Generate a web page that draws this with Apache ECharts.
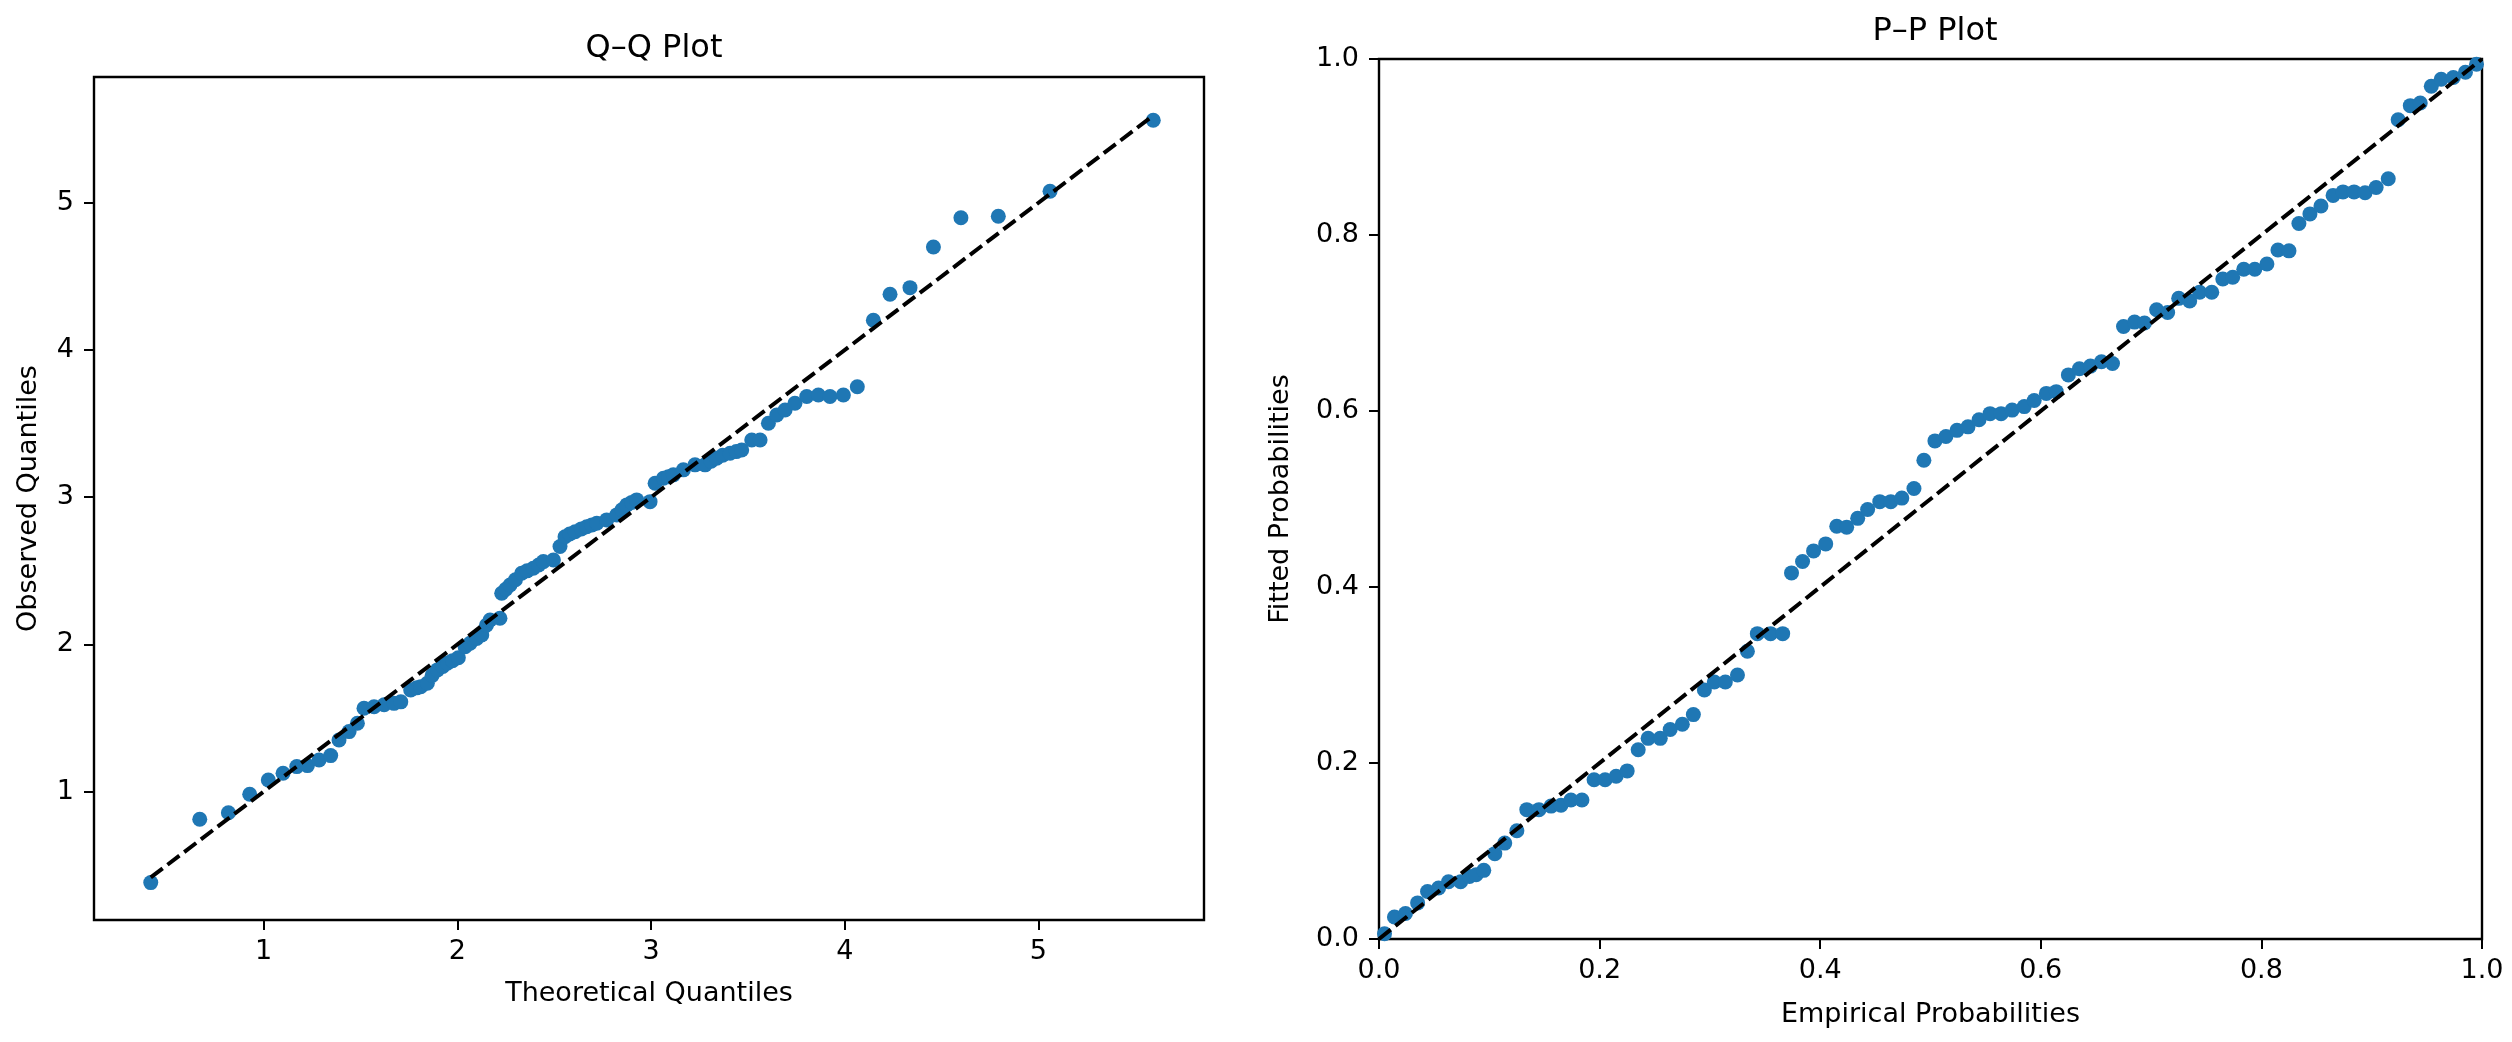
<!DOCTYPE html>
<html>
<head>
<meta charset="utf-8">
<title>Q–Q and P–P Plot</title>
<script src="https://cdn.jsdelivr.net/npm/echarts/dist/echarts.min.js"></script>
<style>
  html, body { margin: 0; padding: 0; background: #fff; }
  #main { width: 2512px; height: 1042px; }
</style>
</head>
<body>
<div id="main"></div>
<script>
// Q–Q plot data (theoretical vs observed quantiles)
let qqTheoretical = [0.417, 0.670, 0.818, 0.928, 1.024, 1.100, 1.171, 1.226, 1.286, 1.346,
  1.389, 1.441, 1.484, 1.518, 1.570, 1.622, 1.673, 1.708, 1.759, 1.790,
  1.811, 1.845, 1.870, 1.897, 1.925, 1.948, 1.975, 2.005, 2.040, 2.066,
  2.100, 2.126, 2.150, 2.169, 2.220, 2.229, 2.250, 2.272, 2.300, 2.332,
  2.360, 2.392, 2.420, 2.444, 2.496, 2.530, 2.556, 2.580, 2.608, 2.640,
  2.668, 2.695, 2.720, 2.771, 2.823, 2.850, 2.875, 2.900, 2.926, 2.995,
  3.021, 3.064, 3.090, 3.115, 3.167, 3.227, 3.279, 3.310, 3.339, 3.370,
  3.408, 3.440, 3.468, 3.520, 3.563, 3.606, 3.649, 3.692, 3.743, 3.804,
  3.864, 3.924, 3.993, 4.065, 4.148, 4.234, 4.337, 4.458, 4.600, 4.793,
  5.060, 5.593]
let qqObserved = [0.382, 0.812, 0.857, 0.982, 1.079, 1.125, 1.170, 1.177, 1.215, 1.245,
  1.351, 1.408, 1.465, 1.567, 1.577, 1.590, 1.600, 1.610, 1.691, 1.705,
  1.713, 1.736, 1.790, 1.827, 1.850, 1.872, 1.890, 1.910, 1.985, 2.008,
  2.040, 2.065, 2.130, 2.166, 2.178, 2.348, 2.375, 2.404, 2.440, 2.484,
  2.500, 2.518, 2.540, 2.563, 2.574, 2.665, 2.732, 2.750, 2.766, 2.785,
  2.800, 2.812, 2.823, 2.846, 2.880, 2.915, 2.948, 2.965, 2.982, 2.970,
  3.095, 3.129, 3.140, 3.152, 3.186, 3.220, 3.220, 3.245, 3.265, 3.285,
  3.299, 3.310, 3.321, 3.389, 3.389, 3.503, 3.559, 3.593, 3.639, 3.684,
  3.695, 3.684, 3.695, 3.751, 4.202, 4.379, 4.424, 4.700, 4.899, 4.909,
  5.079, 5.561]
let qqTicks = [1, 2, 3, 4, 5]

// P–P plot data (empirical vs fitted probabilities)
let ppEmpirical = [0.005, 0.014, 0.024, 0.035, 0.044, 0.054, 0.063, 0.074, 0.082, 0.088,
  0.095, 0.105, 0.114, 0.125, 0.134, 0.145, 0.156, 0.165, 0.174, 0.184,
  0.195, 0.205, 0.215, 0.225, 0.235, 0.244, 0.255, 0.264, 0.275, 0.285,
  0.295, 0.304, 0.314, 0.325, 0.334, 0.343, 0.355, 0.366, 0.374, 0.384,
  0.394, 0.405, 0.415, 0.424, 0.434, 0.443, 0.454, 0.464, 0.474, 0.485,
  0.494, 0.504, 0.514, 0.524, 0.534, 0.544, 0.554, 0.564, 0.574, 0.585,
  0.594, 0.605, 0.614, 0.625, 0.635, 0.645, 0.655, 0.665, 0.675, 0.685,
  0.694, 0.705, 0.715, 0.725, 0.735, 0.744, 0.755, 0.765, 0.774, 0.784,
  0.794, 0.805, 0.815, 0.825, 0.834, 0.844, 0.854, 0.865, 0.874, 0.884,
  0.894, 0.904, 0.915, 0.924, 0.935, 0.944, 0.954, 0.963, 0.974, 0.985,
  0.995]
let ppFitted = [0.006, 0.025, 0.029, 0.041, 0.054, 0.058, 0.065, 0.065, 0.071, 0.073,
  0.078, 0.097, 0.109, 0.123, 0.147, 0.147, 0.151, 0.152, 0.158, 0.158,
  0.181, 0.181, 0.185, 0.191, 0.215, 0.228, 0.228, 0.238, 0.244, 0.255,
  0.283, 0.292, 0.292, 0.300, 0.327, 0.347, 0.347, 0.347, 0.416, 0.429,
  0.441, 0.449, 0.469, 0.468, 0.478, 0.488, 0.497, 0.497, 0.501, 0.512,
  0.544, 0.566, 0.571, 0.578, 0.582, 0.590, 0.597, 0.597, 0.601, 0.605,
  0.612, 0.620, 0.622, 0.641, 0.648, 0.651, 0.656, 0.654, 0.696, 0.701,
  0.700, 0.715, 0.712, 0.728, 0.725, 0.735, 0.735, 0.750, 0.752, 0.761,
  0.761, 0.767, 0.783, 0.782, 0.813, 0.824, 0.833, 0.845, 0.849, 0.849,
  0.848, 0.854, 0.864, 0.931, 0.947, 0.950, 0.969, 0.977, 0.979, 0.985,
  0.994]
let ppTicks = [0, 0.2, 0.4, 0.6, 0.8, 1.0]

// reference lines
let qqLine = [[0.417, 0.417], [5.593, 5.593]]
let ppLine = [[0, 0], [1, 1]]

const FONT = "DejaVu Sans"
const BLUE = "#1f77b4"

function pairs(xs, ys) {
  return xs.map((x, i) => [x, ys[i]])
}

function axisBase(extra) {
  return Object.assign({
    axisLine: { show: true, onZero: false, lineStyle: { color: "#000", width: 2 } },
    axisTick: { show: true, length: 10, lineStyle: { color: "#000", width: 2 } },
    axisLabel: { color: "#000", fontSize: 27, fontFamily: FONT },
    splitLine: { show: false },
    nameTextStyle: { color: "#000", fontSize: 27, fontFamily: FONT }
  }, extra)
}

var myChart = echarts.init(document.getElementById("main"), null, { renderer: "canvas" })

var option = {
  backgroundColor: "#fff",
  animation: false,
  title: [
    { text: "Q–Q Plot", left: 649, top: 28, textAlign: "center",
      textStyle: { fontSize: 32, fontWeight: "normal", color: "#000", fontFamily: FONT } },
    { text: "P–P Plot", left: 1930, top: 11, textAlign: "center",
      textStyle: { fontSize: 32, fontWeight: "normal", color: "#000", fontFamily: FONT } }
  ],
  grid: [
    { left: 94, top: 77, width: 1110, height: 843, show: true, borderColor: "#000", borderWidth: 2.4, backgroundColor: "transparent" },
    { left: 1379, top: 59, width: 1103, height: 880, show: true, borderColor: "#000", borderWidth: 2.4, backgroundColor: "transparent" }
  ],
  xAxis: [
    axisBase({
      type: "value", gridIndex: 0, min: 0.124, max: 5.855,
      name: "Theoretical Quantiles", nameLocation: "middle", nameGap: 60,
      axisTick: { show: true, length: 10, customValues: qqTicks, lineStyle: { color: "#000", width: 2 } },
      axisLabel: { color: "#000", fontSize: 27, fontFamily: FONT, margin: 18, customValues: qqTicks }
    }),
    axisBase({
      type: "value", gridIndex: 1, min: 0, max: 1, interval: 0.2,
      name: "Empirical Probabilities", nameLocation: "middle", nameGap: 62,
      axisLabel: { color: "#000", fontSize: 27, fontFamily: FONT, margin: 18, formatter: v => v.toFixed(1) }
    })
  ],
  yAxis: [
    axisBase({
      type: "value", gridIndex: 0, min: 0.128, max: 5.855,
      name: "Observed Quantiles", nameLocation: "middle", nameGap: 52,
      axisTick: { show: true, length: 10, customValues: qqTicks, lineStyle: { color: "#000", width: 2 } },
      axisLabel: { color: "#000", fontSize: 27, fontFamily: FONT, margin: 20, customValues: qqTicks }
    }),
    axisBase({
      type: "value", gridIndex: 1, min: 0, max: 1, interval: 0.2,
      name: "Fitted Probabilities", nameLocation: "middle", nameGap: 85,
      axisLabel: { color: "#000", fontSize: 27, fontFamily: FONT, margin: 20, formatter: v => v.toFixed(1) }
    })
  ],
  series: [
    {
      type: "scatter", xAxisIndex: 0, yAxisIndex: 0,
      data: pairs(qqTheoretical, qqObserved),
      symbolSize: 15, itemStyle: { color: BLUE, opacity: 1 }, z: 2
    },
    {
      type: "line", xAxisIndex: 0, yAxisIndex: 0, data: qqLine,
      showSymbol: false, symbol: "none", silent: true,
      lineStyle: { color: "#000", width: 4, type: [15, 6] }, z: 3
    },
    {
      type: "scatter", xAxisIndex: 1, yAxisIndex: 1,
      data: pairs(ppEmpirical, ppFitted),
      symbolSize: 15, itemStyle: { color: BLUE, opacity: 1 }, z: 2
    },
    {
      type: "line", xAxisIndex: 1, yAxisIndex: 1, data: ppLine,
      showSymbol: false, symbol: "none", silent: true,
      lineStyle: { color: "#000", width: 4, type: [15, 6] }, z: 3
    }
  ]
}

myChart.setOption(option)
</script>
</body>
</html>
